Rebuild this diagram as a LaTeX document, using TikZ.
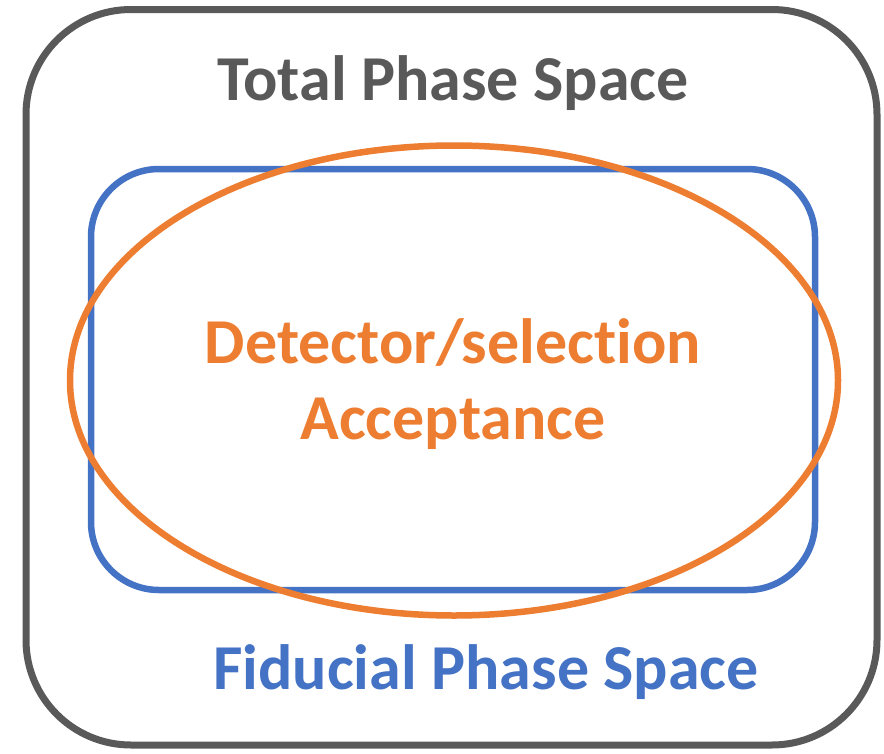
\documentclass[tikz,border=0pt]{standalone}
\usepackage{fontspec}
\setmainfont[Ligatures=NoCommon]{Carlito}
\definecolor{tgray}{HTML}{595959}
\definecolor{tblue}{HTML}{4472C4}
\definecolor{torange}{HTML}{ED7D31}
\begin{document}
\begin{tikzpicture}[x=1pt,y=-1pt,
  lbl/.style={font=\fontsize{64}{70}\selectfont\bfseries, inner sep=0pt, anchor=base}]
\useasboundingbox (0,0) rectangle (884,753);
\draw[tgray, line width=7pt, rounded corners=105pt] (26,9.5) rectangle (877,745);
\draw[tblue, line width=6.5pt, rounded corners=68pt] (91,169) rectangle (815,590);
\draw[torange, line width=6.5pt] (454,380.5) ellipse [x radius=384, y radius=235];
\node[lbl, text=tgray] (total) at (453,100) {Total Phase Space};
\node[lbl, text=torange] (det) at (453,363) {Detector/selection};
\node[lbl, text=torange] (acc) at (453,439) {Acceptance};
\node[lbl, text=tblue] (fid) at (486,689) {Fiducial Phase Space};
\end{tikzpicture}
\end{document}
